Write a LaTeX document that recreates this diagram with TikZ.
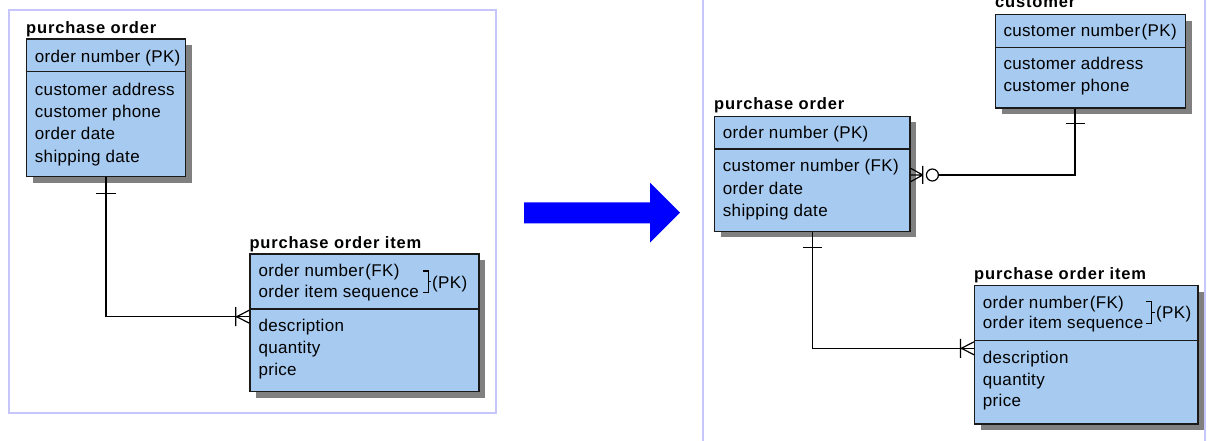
\documentclass[tikz,border=0pt]{standalone}
\usepackage{fontspec}
\newfontfamily\erfont[LetterSpace=2]{Liberation Sans}
\newfontfamily\ertitlefont[LetterSpace=5]{Liberation Sans}
\usetikzlibrary{shadows}
\definecolor{boxfill}{HTML}{A6CAF0}
\definecolor{shadowgrey}{HTML}{808080}
\definecolor{framecol}{HTML}{C6C6FA}
\definecolor{edgecol}{HTML}{1A1A1A}
\definecolor{arrowblue}{HTML}{0000FF}
\tikzset{
  frame/.style={draw=framecol, line width=2pt},
  entity/.style={draw=edgecol, line width=1.4pt, fill=boxfill, inner sep=0pt,
    anchor=north west,
    drop shadow={shadow xshift=6pt, shadow yshift=-6pt, fill=shadowgrey, opacity=1}},
  divider/.style={draw=edgecol, line width=1.4pt},
  rel/.style={draw=black, line width=1.2pt},
  attr/.style={anchor=base west, inner sep=0pt, font=\erfont\fontsize{17}{20}\selectfont},
  etitle/.style={attr, font=\ertitlefont\bfseries\fontsize{16.5}{20}\selectfont},
}
\newcommand{\tk}{\kern1.5pt}
\begin{document}
\begin{tikzpicture}[x=1pt, y=-1pt]
\useasboundingbox (0,0) rectangle (1208,441);
\clip (0,0) rectangle (1208,441);
\fill[white] (0,0) rectangle (1208,441);

% panels
\draw[frame] (8.5,10.5) rectangle (496,412.5);
\draw[frame] (702.5,-5) rectangle (1205,450);

% ---------------- before: purchase order ----------------
\node[entity, minimum width=159pt, minimum height=137.7pt] (po1) at (26,38.3) {};
\draw[divider] (po1.north west |- 0,71.7) -- (po1.north east |- 0,71.7);
\node[etitle] (po1t) at (26,33.3) {purchase order};
\node[attr] (po1a) at (34.7,63) {order number (PK)};
\node[attr] (po1b) at (34.7,95.5) {customer address};
\node[attr] (po1c) at (34.7,117.8) {customer phone};
\node[attr] (po1d) at (34.7,140) {order date};
\node[attr] (po1e) at (34.7,162.3) {shipping date};

% ---------------- before: purchase order item ----------------
\node[entity, minimum width=229pt, minimum height=137.7pt] (poi1) at (249.3,253.3) {};
\draw[divider] (poi1.north west |- 0,309) -- (poi1.north east |- 0,309);
\node[etitle] (poi1t) at (249.3,248) {purchase order item};
\node[attr] (poi1a) at (258.3,276.7) {order number\tk(FK)};
\node[attr] (poi1b) at (258.3,297.7) {order item sequence};
\node[attr] (poi1c) at (258.3,331.7) {description};
\node[attr] (poi1d) at (258.3,353) {quantity};
\node[attr] (poi1e) at (258.3,375) {price};
\draw[rel] (423,271) -- (428.3,271) -- (428.3,292.7) -- (423,292.7)
           (428.3,281.8) -- (431,281.8);
\node[attr] (poi1k) at (432,288.3) {(PK)};

% relationship: one purchase order to many items
\coordinate (x1) at (106,0);
\coordinate (y1) at (0,316.7);
\draw[rel] (po1.south -| x1) |- (poi1.west |- y1);
\draw[rel] ([yshift=-16pt]po1.south -| x1) ++(-9.7,0) -- ++(19.4,0);
\draw[rel] ([xshift=-12.6pt]poi1.west |- y1) -- ([yshift=6.5pt]poi1.west |- y1)
           ([xshift=-12.6pt]poi1.west |- y1) -- ([yshift=-6.5pt]poi1.west |- y1)
           ([xshift=-13.6pt]poi1.west |- y1) ++(0,-9.5) -- ++(0,19);

% ---------------- transformation arrow ----------------
\fill[arrowblue] (524,202.3) -- (650,202.3) -- (650,182.7) -- (680,212.7)
                 -- (650,242.7) -- (650,223.3) -- (524,223.3) -- cycle;

% ---------------- after: customer ----------------
\node[entity, minimum width=190pt, minimum height=93.3pt] (cu) at (995,14) {};
\draw[divider] (cu.north west |- 0,47.7) -- (cu.north east |- 0,47.7);
\node[etitle] (cut) at (995,7.3) {customer};
\node[attr] (cua) at (1003.3,36.7) {customer number\tk(PK)};
\node[attr] (cub) at (1003.3,69.3) {customer address};
\node[attr] (cuc) at (1003.3,91.7) {customer phone};

% ---------------- after: purchase order ----------------
\node[entity, minimum width=195.3pt, minimum height=115pt] (po2) at (714,115.7) {};
\draw[divider] (po2.north west |- 0,149) -- (po2.north east |- 0,149);
\node[etitle] (po2t) at (714,110) {purchase order};
\node[attr] (po2a) at (722.7,138.3) {order number (PK)};
\node[attr] (po2b) at (722.7,171.7) {customer number (FK)};
\node[attr] (po2c) at (722.7,194) {order date};
\node[attr] (po2d) at (722.7,216) {shipping date};

% ---------------- after: purchase order item ----------------
\node[entity, minimum width=223.3pt, minimum height=138.3pt] (poi2) at (974,285) {};
\draw[divider] (poi2.north west |- 0,340.7) -- (poi2.north east |- 0,340.7);
\node[etitle] (poi2t) at (974,279.3) {purchase order item};
\node[attr] (poi2a) at (982.7,308.3) {order number\tk(FK)};
\node[attr] (poi2b) at (982.7,328.3) {order item sequence};
\node[attr] (poi2c) at (982.7,363.3) {description};
\node[attr] (poi2d) at (982.7,385) {quantity};
\node[attr] (poi2e) at (982.7,406.7) {price};
\draw[rel] (1146,301.7) -- (1151.7,301.7) -- (1151.7,323.3) -- (1146,323.3)
           (1151.7,312.5) -- (1154.5,312.5);
\node[attr] (poi2k) at (1156,318.3) {(PK)};

% relationship: one customer to zero or many purchase orders
\coordinate (x2) at (1075,0);
\coordinate (y2) at (0,175);
\draw[rel] (cu.south -| x2) |- ([xshift=18pt]po2.east |- y2);
\draw[rel] ([yshift=-15pt]cu.south -| x2) ++(-9.5,0) -- ++(19,0);
\draw[rel] (po2.east |- y2) -- ([xshift=12pt]po2.east |- y2)
           ([xshift=12pt]po2.east |- y2) -- ([yshift=6.7pt]po2.east |- y2)
           ([xshift=12pt]po2.east |- y2) -- ([yshift=-6.7pt]po2.east |- y2)
           ([xshift=12pt]po2.east |- y2) ++(0,-9) -- ++(0,18);
\draw[rel, fill=white] ([xshift=21.7pt]po2.east |- y2) circle[radius=6pt];

% relationship: one purchase order to many items
\coordinate (x3) at (812.3,0);
\coordinate (y3) at (0,348.3);
\draw[rel] (po2.south -| x3) |- (poi2.west |- y3);
\draw[rel] ([yshift=-15pt]po2.south -| x3) ++(-9.5,0) -- ++(19,0);
\draw[rel] ([xshift=-12.6pt]poi2.west |- y3) -- ([yshift=6.5pt]poi2.west |- y3)
           ([xshift=-12.6pt]poi2.west |- y3) -- ([yshift=-6.5pt]poi2.west |- y3)
           ([xshift=-13.6pt]poi2.west |- y3) ++(0,-9.5) -- ++(0,19);
\end{tikzpicture}
\end{document}
